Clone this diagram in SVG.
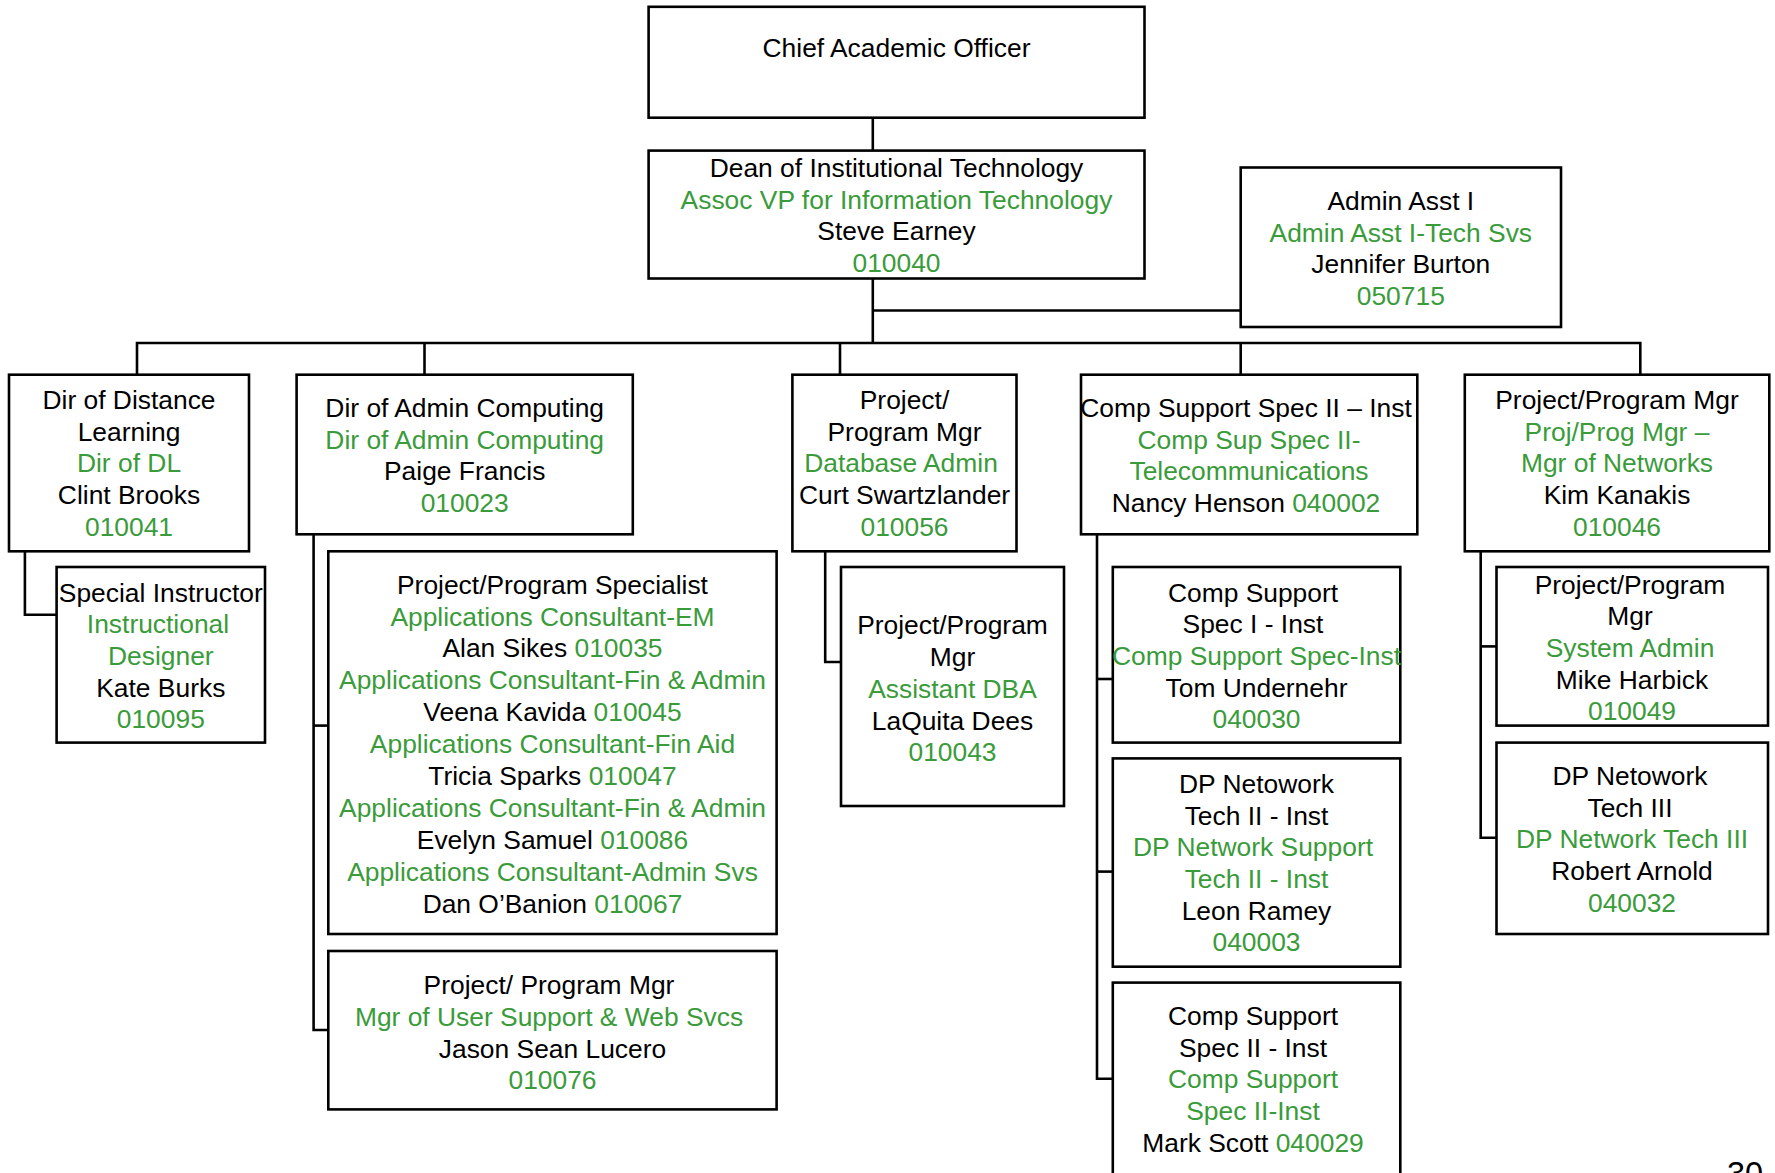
<svg xmlns="http://www.w3.org/2000/svg" width="1775" height="1173" viewBox="0 0 1775 1173">
<style>
.box{fill:#fff;stroke:#000;stroke-width:2.6}
.ln{fill:none;stroke:#000;stroke-width:2.6}
text{font-family:"Liberation Sans",Arial,sans-serif;font-size:26.4px;text-anchor:middle;fill:#000}
.g{fill:#3a9b3a}
</style>
<rect width="1775" height="1173" fill="#fff"/>
<g id="connectors">
<line class="ln" x1="872.8" y1="117.7" x2="872.8" y2="150.6"/>
<line class="ln" x1="872.8" y1="278.5" x2="872.8" y2="343"/>
<line class="ln" x1="872.8" y1="310.5" x2="1240.7" y2="310.5"/>
<polyline class="ln" points="137,374.7 137,343 1640.3,343 1640.3,374.7"/>
<line class="ln" x1="424.5" y1="343" x2="424.5" y2="374.7"/>
<line class="ln" x1="840" y1="343" x2="840" y2="374.7"/>
<line class="ln" x1="1240.7" y1="343" x2="1240.7" y2="374.7"/>
<polyline class="ln" points="24.9,551.3 24.9,614.7 56.6,614.7"/>
<polyline class="ln" points="313.6,534.3 313.6,1030 328.3,1030"/>
<line class="ln" x1="313.6" y1="725.6" x2="328.3" y2="725.6"/>
<polyline class="ln" points="825.2,551.3 825.2,662 841,662"/>
<polyline class="ln" points="1097,534.3 1097,1078.8 1112.8,1078.8"/>
<line class="ln" x1="1097" y1="679" x2="1112.8" y2="679"/>
<line class="ln" x1="1097" y1="871.6" x2="1112.8" y2="871.6"/>
<polyline class="ln" points="1480.7,551.3 1480.7,837.7 1496.5,837.7"/>
<line class="ln" x1="1480.7" y1="646.4" x2="1496.5" y2="646.4"/>
</g>
<g id="cao">
<rect class="box" x="648.6" y="6.8" width="495.9" height="110.9"/>
<text x="896.5" y="57">Chief Academic Officer</text>
</g>
<g id="dean">
<rect class="box" x="648.6" y="150.6" width="495.9" height="127.9"/>
<text x="896.5" y="177">Dean of Institutional Technology</text>
<text x="896.5" y="208.7" class="g">Assoc VP for Information Technology</text>
<text x="896.5" y="240.4">Steve Earney</text>
<text x="896.5" y="272.1" class="g">010040</text>
</g>
<g id="admin-asst">
<rect class="box" x="1240.7" y="167.5" width="320.3" height="159.5"/>
<text x="1400.8" y="209.9">Admin Asst I</text>
<text x="1400.8" y="241.6" class="g">Admin Asst I-Tech Svs</text>
<text x="1400.8" y="273.3">Jennifer Burton</text>
<text x="1400.8" y="305" class="g">050715</text>
</g>
<g id="dir-dl">
<rect class="box" x="9" y="374.7" width="240" height="176.6"/>
<text x="129" y="409">Dir of Distance</text>
<text x="129" y="440.7">Learning</text>
<text x="129" y="472.4" class="g">Dir of DL</text>
<text x="129" y="504.1">Clint Brooks</text>
<text x="129" y="535.8" class="g">010041</text>
</g>
<g id="special-instructor">
<rect class="box" x="56.6" y="567" width="208.4" height="175.6"/>
<text x="160.8" y="601.5">Special Instructor</text>
<text x="158" y="633.2" class="g">Instructional</text>
<text x="160.8" y="664.9" class="g">Designer</text>
<text x="160.8" y="696.6">Kate Burks</text>
<text x="160.8" y="728.3" class="g">010095</text>
</g>
<g id="dir-admin-computing">
<rect class="box" x="296.6" y="374.7" width="336.2" height="159.6"/>
<text x="464.7" y="417">Dir of Admin Computing</text>
<text x="464.7" y="448.7" class="g">Dir of Admin Computing</text>
<text x="464.7" y="480.4">Paige Francis</text>
<text x="464.7" y="512.1" class="g">010023</text>
</g>
<g id="pp-specialist">
<rect class="box" x="328.3" y="551.3" width="448.3" height="382.7"/>
<text x="552.5" y="593.6">Project/Program Specialist</text>
<text x="552.5" y="625.5" class="g">Applications Consultant-EM</text>
<text x="552.5" y="657.4">Alan Sikes <tspan class="g">010035</tspan></text>
<text x="552.5" y="689.3" class="g">Applications Consultant-Fin &amp; Admin</text>
<text x="552.5" y="721.2">Veena Kavida <tspan class="g">010045</tspan></text>
<text x="552.5" y="753.1" class="g">Applications Consultant-Fin Aid</text>
<text x="552.5" y="785">Tricia Sparks <tspan class="g">010047</tspan></text>
<text x="552.5" y="816.9" class="g">Applications Consultant-Fin &amp; Admin</text>
<text x="552.5" y="848.8">Evelyn Samuel <tspan class="g">010086</tspan></text>
<text x="552.5" y="880.7" class="g">Applications Consultant-Admin Svs</text>
<text x="552.5" y="912.6">Dan O’Banion <tspan class="g">010067</tspan></text>
</g>
<g id="user-support-mgr">
<rect class="box" x="328.3" y="951" width="448.3" height="158.4"/>
<text x="549" y="994.3">Project/ Program Mgr</text>
<text x="549" y="1026" class="g">Mgr of User Support &amp; Web Svcs</text>
<text x="552.5" y="1057.7">Jason Sean Lucero</text>
<text x="552.5" y="1089.4" class="g">010076</text>
</g>
<g id="pp-mgr-dba">
<rect class="box" x="792.4" y="374.7" width="224.1" height="176.6"/>
<text x="904.5" y="409">Project/</text>
<text x="904.5" y="440.7">Program Mgr</text>
<text x="901" y="472.4" class="g">Database Admin</text>
<text x="904.5" y="504.1">Curt Swartzlander</text>
<text x="904.5" y="535.8" class="g">010056</text>
</g>
<g id="assistant-dba">
<rect class="box" x="841" y="567" width="223" height="239"/>
<text x="952.5" y="634.4">Project/Program</text>
<text x="952.5" y="666.1">Mgr</text>
<text x="952.5" y="697.8" class="g">Assistant DBA</text>
<text x="952.5" y="729.5">LaQuita Dees</text>
<text x="952.5" y="761.2" class="g">010043</text>
</g>
<g id="comp-support-spec-ii">
<rect class="box" x="1081" y="374.7" width="336.3" height="159.6"/>
<text x="1246" y="417">Comp Support Spec II – Inst</text>
<text x="1249" y="448.7" class="g">Comp Sup Spec II-</text>
<text x="1249" y="480.4" class="g">Telecommunications</text>
<text x="1246" y="512.1">Nancy Henson <tspan class="g">040002</tspan></text>
</g>
<g id="comp-support-spec-i">
<rect class="box" x="1112.8" y="567" width="287.5" height="175.6"/>
<text x="1253" y="601.5">Comp Support</text>
<text x="1253" y="633.2">Spec I - Inst</text>
<text x="1256.5" y="664.9" class="g">Comp Support Spec-Inst</text>
<text x="1256.5" y="696.6">Tom Undernehr</text>
<text x="1256.5" y="728.3" class="g">040030</text>
</g>
<g id="dp-network-tech-ii">
<rect class="box" x="1112.8" y="758.4" width="287.5" height="208.3"/>
<text x="1256.5" y="792.8">DP Netowork</text>
<text x="1256.5" y="824.5">Tech II - Inst</text>
<text x="1253" y="856.2" class="g">DP Network Support</text>
<text x="1256.5" y="887.9" class="g">Tech II - Inst</text>
<text x="1256.5" y="919.6">Leon Ramey</text>
<text x="1256.5" y="951.3" class="g">040003</text>
</g>
<g id="comp-support-spec-ii-inst">
<rect class="box" x="1112.8" y="982.6" width="287.5" height="210"/>
<text x="1253" y="1024.9">Comp Support</text>
<text x="1253" y="1056.6">Spec II - Inst</text>
<text x="1253" y="1088.3" class="g">Comp Support</text>
<text x="1253" y="1120" class="g">Spec II-Inst</text>
<text x="1253" y="1151.7">Mark Scott <tspan class="g">040029</tspan></text>
</g>
<g id="pp-mgr-networks">
<rect class="box" x="1464.8" y="374.7" width="304.5" height="176.6"/>
<text x="1617" y="409">Project/Program Mgr</text>
<text x="1617" y="440.7" class="g">Proj/Prog Mgr –</text>
<text x="1617" y="472.4" class="g">Mgr of Networks</text>
<text x="1617" y="504.1">Kim Kanakis</text>
<text x="1617" y="535.8" class="g">010046</text>
</g>
<g id="system-admin">
<rect class="box" x="1496.5" y="567" width="271.5" height="158.6"/>
<text x="1630" y="593.6">Project/Program</text>
<text x="1630" y="625.3">Mgr</text>
<text x="1630" y="657" class="g">System Admin</text>
<text x="1632" y="688.7">Mike Harbick</text>
<text x="1632" y="720.4" class="g">010049</text>
</g>
<g id="dp-network-tech-iii">
<rect class="box" x="1496.5" y="742.6" width="271.5" height="191.4"/>
<text x="1630" y="785">DP Netowork</text>
<text x="1630" y="816.7">Tech III</text>
<text x="1632" y="848.4" class="g">DP Network Tech III</text>
<text x="1632" y="880.1">Robert Arnold</text>
<text x="1632" y="911.8" class="g">040032</text>
</g>
<text x="1745" y="1185" style="font-size:32.5px">30</text>
</svg>
